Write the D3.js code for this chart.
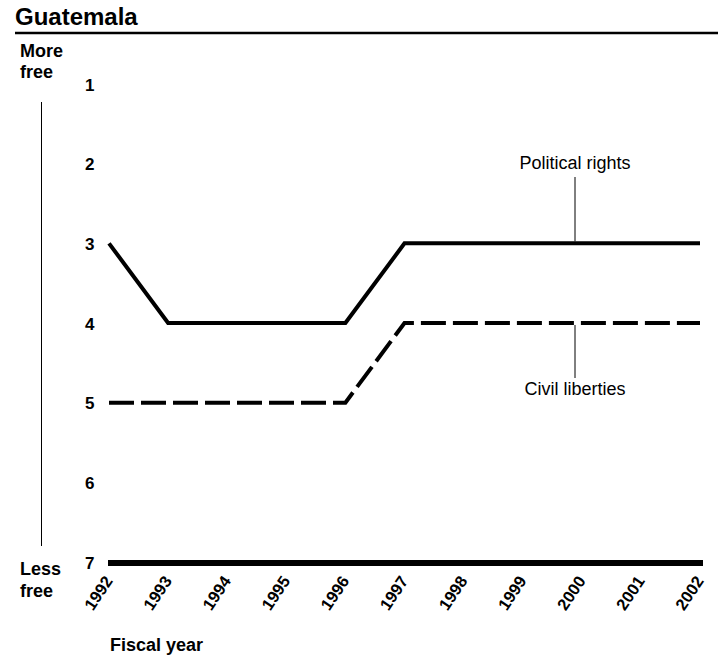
<!DOCTYPE html>
<html><head><meta charset="utf-8">
<script src="https://cdn.jsdelivr.net/npm/d3@7"></script>
<style>body{margin:0;background:#fff;} text{font-family:"Liberation Sans",Arial,Helvetica,sans-serif;}</style>
</head><body><svg id="c" width="718" height="661"></svg>
<script>
const years = [1992,1993,1994,1995,1996,1997,1998,1999,2000,2001,2002];
const politicalRights = [3,4,4,4,4,3,3,3,3,3,3];
const civilLiberties = [5,5,5,5,5,4,4,4,4,4,4];
const yTicks = [1,2,3,4,5,6,7];

const svg = d3.select("#c");
const x = d3.scaleLinear().domain([1992,2002]).range([109,700]);
const y = d3.scaleLinear().domain([1,7]).range([84,562]);
const FF = "Liberation Sans, Arial, sans-serif";

// title
svg.append("text").attr("x",15).attr("y",25).attr("font-size",24).attr("font-weight","bold").text("Guatemala");
svg.append("line").attr("x1",15).attr("x2",718).attr("y1",33).attr("y2",33).attr("stroke","#000").attr("stroke-width",2.5);

// side labels
const side = svg.append("g").attr("font-size",18).attr("font-weight","bold");
side.append("text").attr("x",20).attr("y",57).text("More");
side.append("text").attr("x",20).attr("y",78).text("free");
side.append("text").attr("x",20).attr("y",575).text("Less");
side.append("text").attr("x",20).attr("y",597).text("free");
svg.append("line").attr("x1",41.5).attr("x2",41.5).attr("y1",102).attr("y2",546).attr("stroke","#000").attr("stroke-width",1);

// y axis
const yAxis = d3.axisLeft(y).tickValues(yTicks).tickSize(0).tickPadding(0).tickFormat(d3.format("d"));
const gy = svg.append("g").attr("transform","translate(85,0)").call(yAxis);
gy.select(".domain").remove();
gy.selectAll("text").attr("font-size",17).attr("font-weight","bold").attr("font-family",FF).attr("fill","#000")
  .attr("text-anchor","start").attr("x",0).attr("dy","0.36em");

// x axis
const xAxis = d3.axisBottom(x).tickValues(years).tickSize(0).tickPadding(0).tickFormat(d3.format("d"));
const gx = svg.append("g").attr("transform",`translate(0,${y(7)})`).call(xAxis);
gx.select(".domain").remove();
gx.selectAll("text").attr("font-size",16.5).attr("font-weight","bold").attr("font-family",FF).attr("fill","#000")
  .attr("text-anchor","end").attr("dy",null).attr("y",0)
  .attr("transform","translate(4,19) rotate(-56)");
svg.append("line").attr("x1",x(1992)-1).attr("x2",x(2002)+3).attr("y1",y(7)+1).attr("y2",y(7)+1).attr("stroke","#000").attr("stroke-width",6);

svg.append("text").attr("x",110).attr("y",651).attr("font-size",18).attr("font-weight","bold").text("Fiscal year");

// lines
const line = d3.line().x((d,i)=>x(years[i])).y(d=>y(d));
svg.append("path").datum(politicalRights).attr("d",line).attr("fill","none").attr("stroke","#000").attr("stroke-width",4).attr("stroke-linejoin","miter");
svg.append("path").datum(civilLiberties).attr("d",line).attr("fill","none").attr("stroke","#000").attr("stroke-width",4).attr("stroke-dasharray","25,7");

// annotations
const ax = 575;
svg.append("line").attr("x1",ax).attr("x2",ax).attr("y1",177).attr("y2",y(3)-2).attr("stroke","#000").attr("stroke-width",1);
svg.append("text").attr("x",ax).attr("y",169).attr("text-anchor","middle").attr("font-size",18).text("Political rights");
svg.append("line").attr("x1",ax).attr("x2",ax).attr("y1",y(4)+2).attr("y2",378).attr("stroke","#000").attr("stroke-width",1);
svg.append("text").attr("x",ax).attr("y",395).attr("text-anchor","middle").attr("font-size",18).text("Civil liberties");
</script></body></html>
